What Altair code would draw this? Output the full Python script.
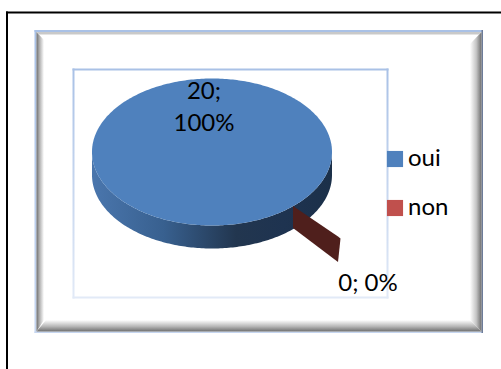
import math
import altair as alt
import pandas as pd

# Survey answers
categories = ["oui", "non"]
counts = [20, 0]
colors = ["#4f81bd", "#c0504d"]

W, H = 501, 369
total = sum(counts)
shares = [c / total for c in counts]

# Pie geometry in canvas pixels
CX, CY, RX, RY, DEPTH = 212, 152, 120, 73.5, 23

sx = alt.Scale(domain=[0, W], range=[0, W])
sy = alt.Scale(domain=[0, H], range=[0, H])
X = lambda f="x": alt.X(f"{f}:Q", scale=sx, axis=None, title=None, sort=None)
Y = lambda f="y": alt.Y(f"{f}:Q", scale=sy, axis=None, title=None)


def grad(stops, vertical=False):
    return alt.Gradient(
        gradient="linear",
        x1=0, y1=0,
        x2=0 if vertical else 1,
        y2=1 if vertical else 0,
        stops=[alt.GradientStop(offset=o, color=c) for o, c in stops],
    )


def box(x0, y0, x1, y1, fill):
    d = pd.DataFrame({"x": [x0], "x2": [x1], "y": [y0], "y2": [y1]})
    return alt.Chart(d).mark_rect(fill=fill, strokeWidth=0).encode(
        x=X(), x2="x2:Q", y=Y(), y2="y2:Q"
    )


def band(points, fill):
    d = pd.DataFrame(points, columns=["x", "y", "y2"])
    return alt.Chart(d).mark_area(fill=fill, orient="vertical", interpolate="linear").encode(
        x=X(), y=Y(), y2="y2:Q"
    )


# Page border: only the top and left edges fall inside the crop
page = [box(6, 11.5, 8, H, "#000000"), box(6, 11.5, W, 13.5, "#000000")]

# Bevelled chart frame
fx0, fy0, fx1, fy1 = 34.5, 30, 483, 333
frame = [
    box(fx0, fy0, fx1, fy0 + 2, "#a9c1e6"),
    box(fx0, fy0, fx0 + 2, fy1, grad([(0, "#a9c1e6"), (1, "#c6d6f0")], True)),
    box(fx0, fy1 - 1.5, fx1, fy1, "#c6d6f0"),
    box(fx1 - 1.5, fy0, fx1, fy1, "#6d7c99"),
    # left and right walls, then top and bottom, mitred at the corners
    band([(36.5, 32, 331.5), (44, 40, 320)], grad([(0, "#6e6e6e"), (0.35, "#a8a8a8"), (1, "#ffffff")])),
    band([(470, 44, 320), (481.5, 32, 331.5)], grad([(0, "#ffffff"), (0.55, "#c4c4c4"), (1, "#6e6e6e")])),
    band([(36.5, 32, 32), (39, 34.5, 32), (479, 34.5, 32), (481.5, 32, 32)], "#c9c9c9"),
    band([(36.5, 331.5, 331.5), (46, 320, 331.5), (470, 320, 331.5), (481.5, 331.5, 331.5)],
         grad([(0, "#ffffff"), (0.55, "#b8b8b8"), (1, "#6e6e6e")], True)),
]

# Plot-area outline, fading towards the bottom
px0, py0, px1, py1 = 72.5, 68.5, 388.5, 298.5
plot_edge = grad([(0, "#a9c1e6"), (1, "#e2eaf7")], True)
outline = [
    box(px0, py0, px1, py0 + 2, "#a9c1e6"),
    box(px0, py1 - 2, px1, py1, "#e2eaf7"),
    box(px0, py0, px0 + 2, py1, plot_edge),
    box(px1 - 2, py0, px1, py1, plot_edge),
]

# Ellipse outline sampled evenly by angle, left to right
angles = [math.pi * (1 - i / 180) for i in range(181)]
rim = [(CX + RX * math.cos(a), RY * math.sin(a)) for a in angles]

# Side wall of the disc
wall = band(
    [(x, CY + h, CY + h + DEPTH) for x, h in rim],
    grad([(0, "#4a76ad"), (0.3, "#38608f"), (0.6, "#22364f"), (0.8, "#1e3350"), (1, "#1b3049")]),
)

# Exploded wedge of the zero-count answer: a flat sliver seen edge on
WEDGE_X, WEDGE_Y, WEDGE_H = 293, 206, 22
wedge = band(
    [
        (WEDGE_X, WEDGE_Y, WEDGE_Y + WEDGE_H),
        (WEDGE_X + 45, WEDGE_Y + 30.5, WEDGE_Y + 56),
        (WEDGE_X + 47.5, WEDGE_Y + 32.5, WEDGE_Y + 32.5),
    ],
    "#4f1f1c",
)

# Top face, coloured through the legend's scale
top_df = pd.DataFrame(
    [{"x": x, "y": CY - h, "y2": CY + h, "serie": categories[0]} for x, h in rim]
)
top = alt.Chart(top_df).mark_area(orient="vertical", interpolate="linear").encode(
    x=X(), y=Y(), y2="y2:Q",
    color=alt.Color(
        "serie:N",
        scale=alt.Scale(domain=categories, range=colors),
        legend=alt.Legend(
            title=None,
            orient="none",
            legendX=383,
            legendY=147,
            padding=0,
            symbolType="square",
            symbolSize=260,
            symbolStrokeWidth=0,
            symbolOpacity=1,
            labelFont="Lato",
            labelFontSize=24,
            labelColor="#000000",
            labelOffset=1,
            rowPadding=25,
            labelLimit=100,
        ),
    ),
)

# Data labels
label_df = pd.DataFrame({
    "x": [204, 204, 368],
    "y": [92, 124, 284],
    "t": [
        f"{counts[0]};",
        f"{shares[0]:.0%}",
        f"{counts[1]}; {shares[1]:.0%}",
    ],
})
labels = alt.Chart(label_df).mark_text(
    font="Lato", fontSize=24, color="#000000", align="center", baseline="middle"
).encode(x=X(), y=Y(), text="t:N")

chart = alt.layer(
    *page, *frame, *outline, wall, wedge, top, labels
).properties(
    width=W,
    height=H,
    padding=0,
    autosize=alt.AutoSizeParams(type="none"),
    background="#ffffff",
).configure_view(stroke=None)

chart.save("out.html", embed_options={"renderer": "svg", "actions": False})
